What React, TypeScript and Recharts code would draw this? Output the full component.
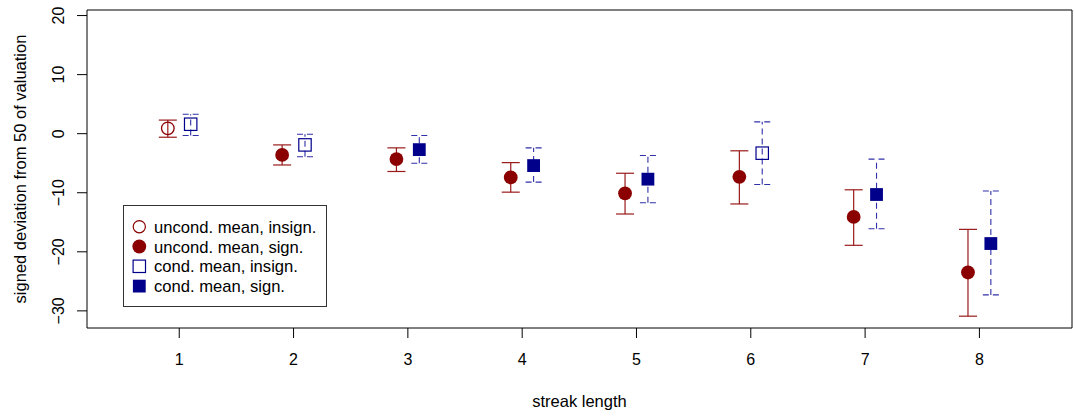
import React from 'react';
import {
  ComposedChart,
  Scatter,
  ErrorBar,
  XAxis,
  YAxis,
  Legend,
  ReferenceArea,
  Label,
} from 'recharts';

// streak lengths and the two estimates per streak
const streaks = [1, 2, 3, 4, 5, 6, 7, 8];

const uncondMean = [0.9, -3.6, -4.3, -7.4, -10.1, -7.3, -14.1, -23.5];
const uncondLow  = [-0.6, -5.3, -6.4, -9.9, -13.6, -11.9, -18.9, -30.9];
const uncondHigh = [2.3, -1.9, -2.4, -4.9, -6.7, -2.9, -9.5, -16.2];
const uncondSig  = [false, true, true, true, true, true, true, true];

const condMean = [1.6, -1.9, -2.7, -5.4, -7.7, -3.3, -10.3, -18.6];
const condLow  = [-0.3, -3.9, -5.0, -8.2, -11.7, -8.6, -16.1, -27.3];
const condHigh = [3.3, -0.1, -0.3, -2.4, -3.7, 2.0, -4.3, -9.7];
const condSig  = [false, false, true, true, true, false, true, true];

const yTicks = [-30, -20, -10, 0, 10, 20];

const legendItems = [
  { label: 'uncond. mean, insign.', kind: 'circle', filled: false },
  { label: 'uncond. mean, sign.',   kind: 'circle', filled: true },
  { label: 'cond. mean, insign.',   kind: 'square', filled: false },
  { label: 'cond. mean, sign.',     kind: 'square', filled: true },
];

const RED  = '#8B0000';
const NAVY = '#00008B';
const FONT = '"Liberation Sans", Arial, Helvetica, sans-serif';

interface Point {
  x: number;
  y: number;
  err: [number, number];
  sig: boolean;
}

const uncondData: Point[] = streaks.map((s, i) => ({
  x: s - 0.1,
  y: uncondMean[i],
  err: [uncondMean[i] - uncondLow[i], uncondHigh[i] - uncondMean[i]],
  sig: uncondSig[i],
}));

const condData: Point[] = streaks.map((s, i) => ({
  x: s + 0.1,
  y: condMean[i],
  err: [condMean[i] - condLow[i], condHigh[i] - condMean[i]],
  sig: condSig[i],
}));

function CircleShape(props: any) {
  const { cx, cy, payload } = props;
  return payload.sig
    ? <circle cx={cx} cy={cy} r={6.9} fill={RED} />
    : <circle cx={cx} cy={cy} r={6.3} fill="none" stroke={RED} strokeWidth={1.3} />;
}

function SquareShape(props: any) {
  const { cx, cy, payload } = props;
  return payload.sig
    ? <rect x={cx - 6.4} y={cy - 6.4} width={12.8} height={12.8} fill={NAVY} />
    : <rect x={cx - 6.2} y={cy - 6.2} width={12.4} height={12.4} fill="none" stroke={NAVY} strokeWidth={1.2} />;
}

function XTick(props: any) {
  const { x, y, payload } = props;
  return (
    <text x={x} y={y + 27} textAnchor="middle" fill="#000" fontSize={16} fontFamily={FONT}>
      {payload.value}
    </text>
  );
}

function YTick(props: any) {
  const { x, y, payload } = props;
  const bx = x - 13;
  return (
    <text
      x={bx}
      y={y}
      textAnchor="middle"
      transform={`rotate(-90 ${bx} ${y})`}
      fill="#000"
      fontSize={16}
      fontFamily={FONT}
    >
      {payload.value < 0 ? `\u2212${Math.abs(payload.value)}` : payload.value}
    </text>
  );
}

function LegendBox() {
  return (
    <svg width={204} height={102} style={{ display: 'block' }}>
      <rect x={0.5} y={0.5} width={203} height={101} fill="#fff" stroke="#333" strokeWidth={1} />
      {legendItems.map((it, i) => {
        const cy = 21.7 + i * 19.8;
        const color = it.kind === 'circle' ? RED : NAVY;
        let sym;
        if (it.kind === 'circle') {
          sym = it.filled
            ? <circle cx={16.3} cy={cy} r={6.9} fill={color} />
            : <circle cx={16.3} cy={cy} r={6.1} fill="none" stroke={color} strokeWidth={1.2} />;
        } else {
          sym = it.filled
            ? <rect x={16.3 - 6.4} y={cy - 6.4} width={12.8} height={12.8} fill={color} />
            : <rect x={16.3 - 6.2} y={cy - 6.2} width={12.4} height={12.4} fill="none" stroke={color} strokeWidth={1.2} />;
        }
        return (
          <g key={it.label}>
            {sym}
            <text x={31} y={cy + 6} fill="#000" fontSize={16.6} fontFamily={FONT}>
              {it.label}
            </text>
          </g>
        );
      })}
    </svg>
  );
}

export default function App(): React.JSX.Element {
  return (
    <div style={{ position: 'fixed', left: 0, top: 0, width: 1075, height: 417, background: '#fff' }}>
      <ComposedChart
        width={1075}
        height={417}
        margin={{ top: 10, right: 3, bottom: 0, left: 0 }}
      >
        <XAxis
          type="number"
          dataKey="x"
          domain={[0.193, 8.81]}
          allowDataOverflow
          ticks={streaks}
          tick={<XTick />}
          tickSize={10}
          tickMargin={0}
          tickLine={{ stroke: '#000' }}
          axisLine={false}
          height={89}
        >
          <Label
            content={(p: any) => (
              <text
                x={p.viewBox.x + p.viewBox.width / 2}
                y={406.5}
                textAnchor="middle"
                fill="#000"
                fontSize={16.5}
                fontFamily={FONT}
              >
                streak length
              </text>
            )}
          />
        </XAxis>
        <YAxis
          type="number"
          dataKey="y"
          domain={[-32.9, 20.94]}
          allowDataOverflow
          ticks={yTicks}
          tick={<YTick />}
          tickSize={10}
          tickMargin={0}
          tickLine={{ stroke: '#000' }}
          axisLine={false}
          width={87}
        >
          <Label
            content={(p: any) => {
              const cy = p.viewBox.y + p.viewBox.height / 2;
              return (
                <text
                  x={25.5}
                  y={cy}
                  textAnchor="middle"
                  transform={`rotate(-90 25.5 ${cy})`}
                  fill="#000"
                  fontSize={16.5}
                  fontFamily={FONT}
                >
                  signed deviation from 50 of valuation
                </text>
              );
            }}
          />
        </YAxis>
        <ReferenceArea
          x1={0.193}
          x2={8.81}
          y1={-32.9}
          y2={20.94}
          fill="none"
          stroke="#000"
          strokeWidth={1}
          ifOverflow="visible"
        />
        <Scatter
          name="uncond"
          data={uncondData}
          shape={<CircleShape />}
          isAnimationActive={false}
        >
          <ErrorBar
            dataKey="err"
            direction="y"
            width={9}
            stroke="#9a1a1a"
            strokeWidth={1.2}
            isAnimationActive={false}
          />
        </Scatter>
        <Scatter
          name="cond"
          data={condData}
          shape={<SquareShape />}
          isAnimationActive={false}
        >
          <ErrorBar
            dataKey="err"
            direction="y"
            width={8}
            stroke="#3030a8"
            strokeWidth={1.1}
            strokeDasharray="6 4"
            isAnimationActive={false}
          />
        </Scatter>
        <Legend
          layout="vertical"
          align="center"
          verticalAlign="middle"
          wrapperStyle={{ left: 123, top: 205, width: 204, height: 102 }}
          content={() => <LegendBox />}
        />
      </ComposedChart>
    </div>
  );
}
